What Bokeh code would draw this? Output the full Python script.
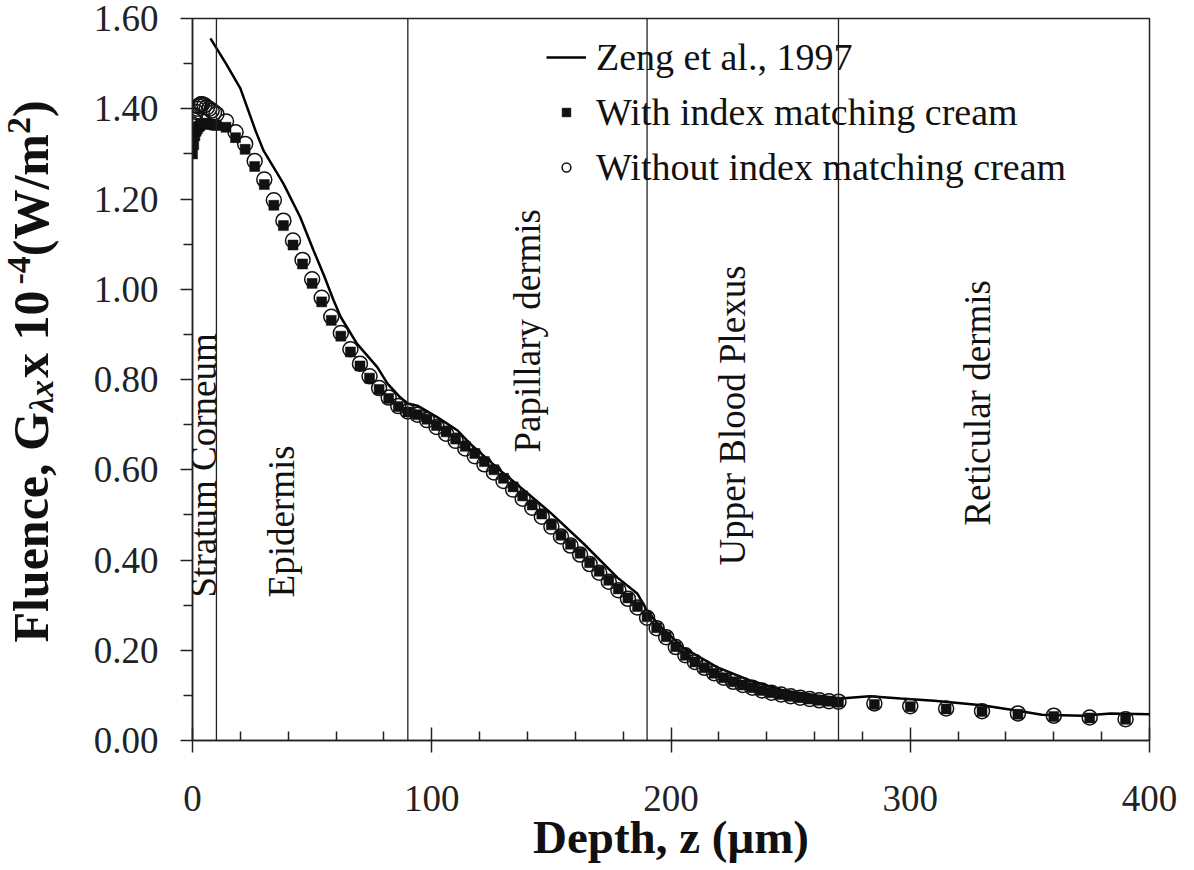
import math
from bokeh.plotting import figure
from bokeh.layouts import row
from bokeh.models import Span, Label, Legend, LegendItem, FixedTicker, PrintfTickFormatter, Range1d
from bokeh.embed import file_html
from bokeh.resources import INLINE

# ---------------- data ----------------
zeng_depth = [7.5, 14, 20, 26.3, 29.7, 38, 45, 50.6, 55, 59, 62, 68.8, 77.3, 81.5, 86.9, 90, 94,
              102.4, 110.8, 116, 128.7, 140, 149.6, 163.5, 177.6, 186, 190, 194.4, 205, 219.4,
              233, 247, 261, 270.8, 283, 296, 310, 330, 345, 355, 372, 383.7, 404]
zeng_fluence = [1.556, 1.500, 1.445, 1.352, 1.307, 1.234, 1.160, 1.086, 1.030, 0.975, 0.938, 0.879,
                0.827, 0.791, 0.760, 0.747, 0.742, 0.716, 0.687, 0.658, 0.598, 0.548, 0.505, 0.436,
                0.361, 0.325, 0.288, 0.259, 0.206, 0.162, 0.133, 0.111, 0.100, 0.093, 0.098, 0.093,
                0.088, 0.078, 0.066, 0.057, 0.055, 0.060, 0.058]

depth = [0, 0.5, 1, 1.5, 2, 2.5, 3, 3.5, 4, 5, 6, 7, 8, 9, 10,
         14, 18, 22, 26, 30, 34, 38, 42, 46, 50, 54, 58, 62, 66, 70, 74, 78, 82, 86, 90,
         94, 98, 102, 106, 110, 114, 118, 122, 126, 130, 134, 138, 142, 146, 150, 154, 158,
         162, 166, 170, 174, 178, 182, 186, 190, 194, 198, 202, 206, 210, 214, 218, 222, 226,
         230, 234, 238, 242, 246, 250, 254, 258, 262, 266, 270,
         285, 300, 315, 330, 345, 360, 375, 390]

with_cream = [1.300, 1.320, 1.340, 1.350, 1.355, 1.360, 1.362, 1.365, 1.367, 1.368, 1.367, 1.366, 1.365, 1.364, 1.363,
              1.359, 1.336, 1.310, 1.272, 1.232, 1.186, 1.141, 1.098, 1.056, 1.013, 0.972, 0.931, 0.896,
              0.861, 0.830, 0.803, 0.778, 0.758, 0.740, 0.728, 0.722, 0.712, 0.698, 0.684, 0.668, 0.652,
              0.636, 0.618, 0.600, 0.581, 0.562, 0.542, 0.522, 0.502, 0.478, 0.455, 0.435, 0.415, 0.394,
              0.375, 0.355, 0.336, 0.316, 0.297, 0.274, 0.250, 0.230, 0.208, 0.189, 0.174, 0.161, 0.149,
              0.139, 0.130, 0.123, 0.117, 0.111, 0.106, 0.102, 0.098, 0.095, 0.092, 0.089, 0.087, 0.085,
              0.080, 0.075, 0.070, 0.064, 0.058, 0.053, 0.050, 0.047]

without_cream = [1.365, 1.375, 1.385, 1.393, 1.400, 1.405, 1.408, 1.410, 1.410, 1.408, 1.403, 1.400, 1.396, 1.392, 1.388,
                 1.372, 1.348, 1.322, 1.284, 1.243, 1.197, 1.152, 1.108, 1.065, 1.022, 0.981, 0.939, 0.903,
                 0.867, 0.835, 0.807, 0.781, 0.760, 0.741, 0.729, 0.722, 0.710, 0.695, 0.680, 0.664, 0.647,
                 0.630, 0.612, 0.594, 0.575, 0.556, 0.536, 0.516, 0.496, 0.474, 0.452, 0.432, 0.412, 0.391,
                 0.372, 0.352, 0.333, 0.314, 0.295, 0.272, 0.249, 0.229, 0.207, 0.189, 0.174, 0.161, 0.149,
                 0.139, 0.130, 0.123, 0.117, 0.111, 0.106, 0.102, 0.098, 0.095, 0.092, 0.089, 0.087, 0.086,
                 0.082, 0.076, 0.071, 0.065, 0.060, 0.055, 0.051, 0.047]

layer_bounds = [10, 90, 190, 270]
layer_names = ["Stratum Corneum", "Epidermis", "Papillary dermis", "Upper Blood Plexus", "Reticular dermis"]

x_ticks = [0, 100, 200, 300, 400]
y_ticks = [0.0, 0.2, 0.4, 0.6, 0.8, 1.0, 1.2, 1.4, 1.6]

series_names = ["Zeng et al., 1997", "With index matching cream", "Without index matching cream"]
x_title = "Depth, z (\u03bcm)"

# ---------------- styling / layout ----------------
FONT = "Liberation Serif"
W, H = 1194, 870
SIDE = 80                      # width of the strip that holds the y title
FL, FT, FR, FB = 192, 18, 1149, 740

layer_label_pos = [(4.6, 0.317), (37, 0.317), (140, 0.638), (225.7, 0.388), (328, 0.476)]

p = figure(width=W - SIDE, height=H, output_backend="svg", toolbar_location=None,
           x_range=Range1d(0, 400), y_range=Range1d(0, 1.6),
           min_border_left=FL - SIDE, min_border_right=W - FR, min_border_top=FT,
           min_border_bottom=H - FB)
p.background_fill_color = "white"
p.border_fill_color = "white"
p.grid.visible = False
p.outline_line_color = "#222222"
p.outline_line_width = 1.5

minor_x = [v for v in range(20, 400, 20) if v % 100 != 0]
minor_y = [round(0.1 + 0.2 * i, 2) for i in range(8)]
p.xaxis.ticker = FixedTicker(ticks=x_ticks, minor_ticks=minor_x)
p.yaxis.ticker = FixedTicker(ticks=y_ticks, minor_ticks=minor_y)
p.yaxis.formatter = PrintfTickFormatter(format="%.2f")

for ax in (p.xaxis, p.yaxis):
    ax.axis_line_color = "#222222"
    ax.axis_line_width = 1.5
    ax.major_tick_line_color = "#222222"
    ax.minor_tick_line_color = "#222222"
    ax.major_tick_line_width = 1.5
    ax.minor_tick_line_width = 1.5
    ax.major_label_text_font = FONT
    ax.major_label_text_font_size = "37px"
    ax.major_label_text_color = "#222222"

p.xaxis.major_tick_in = 13
p.xaxis.major_tick_out = 12
p.xaxis.minor_tick_in = 9
p.xaxis.minor_tick_out = 0
p.xaxis.major_label_standoff = 33
p.xaxis.axis_label = x_title
p.xaxis.axis_label_text_font = FONT
p.xaxis.axis_label_text_font_size = "47px"
p.xaxis.axis_label_text_font_style = "bold"
p.xaxis.axis_label_text_color = "#111111"
p.xaxis.axis_label_standoff = -3

p.yaxis.major_tick_in = 0
p.yaxis.major_tick_out = 12
p.yaxis.minor_tick_in = 0
p.yaxis.minor_tick_out = 9
p.yaxis.major_label_standoff = 22

for b in layer_bounds:
    p.add_layout(Span(location=b, dimension="height", line_color="#222222", line_width=1.3))

line_r = p.line(zeng_depth, zeng_fluence, line_color="black", line_width=2.5)
circ_r = p.scatter(depth, without_cream, marker="circle", size=15, line_color="#111111",
                   line_width=1.5, fill_alpha=0)
sq_r = p.scatter(depth, with_cream, marker="square", size=10, line_color="#111111",
                 line_width=0.5, fill_color="#111111")

legend = Legend(items=[LegendItem(label=series_names[0], renderers=[line_r]),
                       LegendItem(label=series_names[1], renderers=[sq_r]),
                       LegendItem(label=series_names[2], renderers=[circ_r])],
                location=(354, 551), border_line_color=None, background_fill_alpha=0,
                padding=0, margin=0, spacing=11, glyph_width=40, glyph_height=22,
                label_standoff=10, label_text_font=FONT, label_text_font_size="38px",
                label_text_color="#111111")
p.add_layout(legend)

for name, (lx, ly) in zip(layer_names, layer_label_pos):
    p.add_layout(Label(x=lx, y=ly, text=name, angle=math.pi / 2, text_font=FONT,
                       text_font_size="37px", text_align="left", text_baseline="middle",
                       text_color="#111111"))

# ---------------- y title strip ----------------
side = figure(width=SIDE, height=H, output_backend="svg", toolbar_location=None,
              x_range=Range1d(0, SIDE), y_range=Range1d(0, FB - FT), x_axis_type=None, y_axis_type=None,
              min_border_left=0, min_border_right=0, min_border_top=FT, min_border_bottom=H - FB)
side.outline_line_color = None
side.grid.visible = False
side.background_fill_color = "white"
side.border_fill_color = "white"

X_CAL = -19   # horizontal calibration of rotated text anchor


def side_label(text, sx, sy, size, style):
    side.add_layout(Label(x=sx + X_CAL, y=FB - sy, x_units="screen", y_units="screen", text=text,
                          angle=math.pi / 2, text_font=FONT, text_font_size=f"{size}px",
                          text_font_style=style, text_align="left", text_baseline="alphabetic",
                          text_color="#111111"))


B, S = 50, 34
pieces = [("Fluence, G", B, "bold", 0, 4.611 * B),
          ("\u03bbx", S, "bold italic", 11, 1.0 * S),
          (" x", B, "bold", 0, 0.75 * B),
          (" 10", B, "bold", 0, 1.12 * B),
          ("-4", S, "bold", -12, 0.833 * S),
          ("(W/m", B, "bold", 0, 2.444 * B),
          ("2", S, "bold", -12, 0.5 * S),
          (")", B, "bold", 0, 0.333 * B)]
total = sum(pc[4] for pc in pieces)
cur = 371 + total / 2
base_x = 49
for text, size, style, shift, w in pieces:
    side_label(text, base_x + shift, cur, size, style)
    cur -= w

layout = row(side, p, spacing=0)
open("out.html", "w").write(file_html(layout, INLINE))
